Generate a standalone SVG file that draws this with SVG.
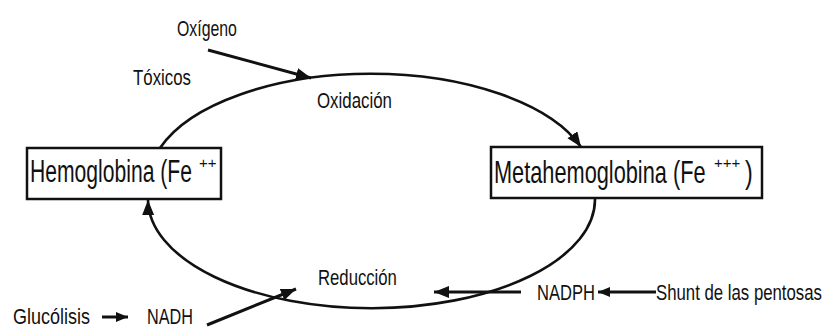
<svg xmlns="http://www.w3.org/2000/svg" width="829" height="329" viewBox="0 0 829 329">
<style>
  .lbl { font-family: "Liberation Sans", Arial, sans-serif; fill: #111; }
  .sm { font-size: 22px; }
  .big { font-size: 31px; }
  .sup { font-size: 15px; }
  .box { fill: #fff; stroke: #111; stroke-width: 2.5; }
  .cyc { fill: none; stroke: #111; stroke-width: 2.6; }
  .arw { fill: none; stroke: #111; stroke-width: 3; }
</style>
<defs>
  <marker id="ah" markerUnits="userSpaceOnUse" markerWidth="16" markerHeight="14" refX="15" refY="6" orient="auto">
    <path d="M0,0 L15,6 L0,12 z" fill="#111"/>
  </marker>
  <marker id="ahs" markerUnits="userSpaceOnUse" markerWidth="14" markerHeight="12" refX="12" refY="5" orient="auto">
    <path d="M0,0 L12,5 L0,10 z" fill="#111"/>
  </marker>
</defs>

<g id="connectors">
  <path class="cyc" d="M160,148 A222,108 0 0 1 581,147" marker-end="url(#ah)"/>
  <path class="cyc" d="M595,199 A222,108 0 0 1 148,200" marker-end="url(#ah)"/>
  <path class="arw" d="M208,50 L311,78" marker-end="url(#ah)"/>
  <path class="arw" d="M207,325 L296,289" marker-end="url(#ah)"/>
  <path class="arw" d="M102,317 L128,317" marker-end="url(#ahs)"/>
  <path class="arw" d="M521,292 L434,292" marker-end="url(#ah)"/>
  <path class="arw" d="M656,292 L598,292" marker-end="url(#ahs)"/>
</g>

<g id="hemoglobina">
  <rect class="box" x="27" y="148" width="194" height="51"/>
  <text class="lbl big" transform="translate(30,182) scale(0.681,1)">Hemoglobina (Fe</text>
  <text class="lbl sup" x="199" y="168">++</text>
</g>

<g id="metahemoglobina">
  <rect class="box" x="491" y="147" width="271" height="51"/>
  <text class="lbl big" transform="translate(494,183) scale(0.702,1)">Metahemoglobina (Fe</text>
  <text class="lbl sup" x="714" y="168">+++</text>
  <text class="lbl big" transform="translate(745,183) scale(0.75,1)">)</text>
</g>

<g id="oxigeno"><text class="lbl sm" transform="translate(177,36) scale(0.721,1)">Oxígeno</text></g>
<g id="toxicos"><text class="lbl sm" transform="translate(133,85) scale(0.765,1)">Tóxicos</text></g>
<g id="oxidacion"><text class="lbl sm" transform="translate(317,108) scale(0.767,1)">Oxidación</text></g>
<g id="reduccion"><text class="lbl sm" transform="translate(318,285) scale(0.76,1)">Reducción</text></g>
<g id="glucolisis"><text class="lbl sm" transform="translate(13,324) scale(0.818,1)">Glucólisis</text></g>
<g id="nadh"><text class="lbl sm" transform="translate(147,324) scale(0.738,1)">NADH</text></g>
<g id="nadph"><text class="lbl sm" transform="translate(537,300) scale(0.753,1)">NADPH</text></g>
<g id="shunt"><text class="lbl sm" transform="translate(656,300) scale(0.763,1)">Shunt de las pentosas</text></g>
</svg>
